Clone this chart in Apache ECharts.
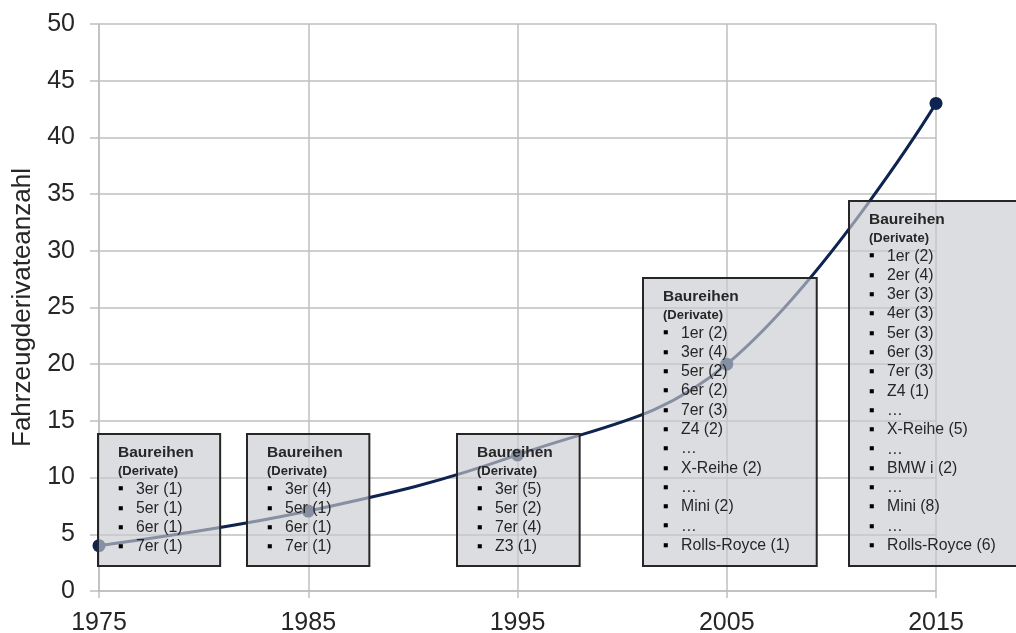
<!DOCTYPE html>
<html>
<head>
<meta charset="utf-8">
<script src="https://cdn.jsdelivr.net/npm/echarts@6/dist/echarts.min.js"></script>
<style>
  html, body { margin: 0; padding: 0; background: #fff; }
  #chart { width: 1016px; height: 633px; }
</style>
</head>
<body>
<div id="chart"></div>
<script>
// Fahrzeugderivate je Stichjahr
var years = [1975, 1985, 1995, 2005, 2015];
var derivateCount = [4, 7.05, 12, 20, 43];

// Baureihen-Kästen (Datenbereich: von Jahr, bis Jahr, oben)
var boxFrom = [1974.95, 1982.08, 1992.13, 2000.98, 2010.84];
var boxTo = [1980.79, 1987.92, 1997.97, 2009.3, 2020];
var boxTop = [13.85, 13.85, 13.85, 27.6, 34.4];
var boxBottom = 2.2;

var boxItems = [
	['3er (1)', '5er (1)', '6er (1)', '7er (1)'],
	['3er (4)', '5er (1)', '6er (1)', '7er (1)'],
	['3er (5)', '5er (2)', '7er (4)', 'Z3 (1)'],
	['1er (2)', '3er (4)', '5er (2)', '6er (2)', '7er (3)', 'Z4 (2)', '…', 'X-Reihe (2)', '…', 'Mini (2)', '…', 'Rolls-Royce (1)'],
	['1er (2)', '2er (4)', '3er (3)', '4er (3)', '5er (3)', '6er (3)', '7er (3)', 'Z4 (1)', '…', 'X-Reihe (5)', '…', 'BMW i (2)', '…', 'Mini (8)', '…', 'Rolls-Royce (6)']
];

var lineData = years.map(function (y, i) { return [y, derivateCount[i]]; });
var boxData = boxFrom.map(function (x, i) { return [x, boxTo[i], boxBottom, boxTop[i]]; });

function boxText(items) {
	var s = '{t|Baureihen}\n{d|(Derivate)}';
	items.forEach(function (it) {
		s += '\n{b|■}{i|' + it + '}';
	});
	return s;
}

var chart = echarts.init(document.getElementById('chart'));
var axisGray = '#bfbfbf';
var textCol = '#262626';
var font = '"Liberation Sans", Arial, sans-serif';

chart.setOption({
	animation: false,
	textStyle: { fontFamily: font },
	grid: { left: 99, right: 80, top: 24, bottom: 42, outerBoundsMode: 'none', containLabel: false },
	xAxis: {
		type: 'value',
		min: 1975,
		max: 2015,
		interval: 10,
		axisLine: { show: true, lineStyle: { color: axisGray, width: 1.5 } },
		axisTick: { show: true, length: 7, lineStyle: { color: axisGray, width: 1.5 } },
		splitLine: { show: true, lineStyle: { color: axisGray, width: 1.5 } },
		axisLabel: {
			color: textCol, fontSize: 25, margin: 20,
			formatter: function (v) { return String(v); }
		}
	},
	yAxis: {
		type: 'value',
		min: 0,
		max: 50,
		interval: 5,
		name: 'Fahrzeugderivateanzahl',
		nameLocation: 'middle',
		nameGap: 61,
		nameTextStyle: { color: textCol, fontSize: 26 },
		axisLine: { show: true, lineStyle: { color: axisGray, width: 1.5 } },
		axisTick: { show: true, length: 9, lineStyle: { color: axisGray, width: 1.5 } },
		splitLine: { show: true, lineStyle: { color: axisGray, width: 1.5 } },
		axisLabel: { color: textCol, fontSize: 25, margin: 24 }
	},
	series: [{
		name: 'Derivate',
		type: 'line',
		data: lineData,
		smooth: 0.4,
		symbol: 'circle',
		symbolSize: 13,
		z: 2,
		lineStyle: { color: '#0d2350', width: 3 },
		itemStyle: { color: '#0d2350' }
	}, {
		name: 'Baureihen',
		type: 'custom',
		clip: false,
		z: 5,
		data: boxData,
		renderItem: function (params, api) {
			var p0 = api.coord([api.value(0), api.value(3)]);
			var p1 = api.coord([api.value(1), api.value(2)]);
			var x = Math.round(p0[0]), y = Math.round(p0[1]);
			return {
				type: 'group',
				children: [{
					type: 'rect',
					shape: { x: x, y: y, width: p1[0] - x, height: p1[1] - y },
					style: { fill: 'rgba(201,203,208,0.65)', stroke: '#262626', lineWidth: 2 }
				}, {
					type: 'text',
					x: x + 20,
					y: y + 9.5,
					style: {
						text: boxText(boxItems[params.dataIndex]),
						verticalAlign: 'top',
						align: 'left',
						fill: textCol,
						fontFamily: font,
						rich: {
							t: { fontSize: 15.5, fontWeight: 'bold', lineHeight: 19, fill: textCol, fontFamily: font },
							d: { fontSize: 13, fontWeight: 'bold', lineHeight: 17, fill: textCol, fontFamily: font },
							b: { fontSize: 8.5, lineHeight: 19.3, width: 18, fill: '#000', fontFamily: font },
							i: { fontSize: 15.8, lineHeight: 19.3, fill: textCol, fontFamily: font }
						}
					}
				}]
			};
		}
	}]
});
</script>
</body>
</html>
